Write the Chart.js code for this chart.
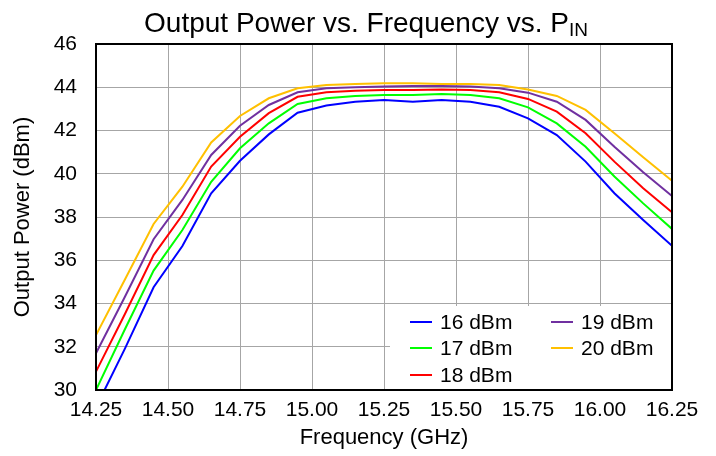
<!DOCTYPE html>
<html lang="en">
<head>
    <meta charset="UTF-8">
    <title>Output Power vs. Frequency vs. PIN</title>
    <script src="https://cdn.jsdelivr.net/npm/chart.js"></script>
    <style>
        body { margin: 0; background: #fff; }
        #wrap { width: 716px; height: 456px; }
    </style>
</head>
<body>
    <div id="wrap"><canvas id="powerChart" width="716" height="456"></canvas></div>
    <script>
        // Frequency points (GHz)
        const freqs = [14.25, 14.35, 14.45, 14.55, 14.65, 14.75, 14.85, 14.95, 15.05, 15.15, 15.25,
                       15.35, 15.45, 15.55, 15.65, 15.75, 15.85, 15.95, 16.05, 16.15, 16.25];

        // Output power (dBm) per input power level
        const pin16 = [29.2, 31.9, 34.75, 36.66, 39.1, 40.6, 41.82, 42.82, 43.16, 43.33, 43.41,
                       43.33, 43.41, 43.33, 43.1, 42.56, 41.79, 40.56, 39.1, 37.86, 36.67];
        const pin17 = [30.0, 32.8, 35.52, 37.4, 39.63, 41.18, 42.33, 43.23, 43.49, 43.6, 43.64,
                       43.64, 43.69, 43.64, 43.49, 43.07, 42.33, 41.25, 39.87, 38.63, 37.45];
        const pin18 = [30.85, 33.5, 36.24, 38.09, 40.33, 41.71, 42.8, 43.56, 43.77, 43.84, 43.87,
                       43.87, 43.9, 43.87, 43.77, 43.46, 42.87, 41.87, 40.56, 39.33, 38.22];
        const pin19 = [31.7, 34.3, 36.97, 38.79, 40.87, 42.22, 43.18, 43.77, 43.95, 44.0, 44.03,
                       44.06, 44.06, 44.03, 43.95, 43.75, 43.33, 42.49, 41.25, 40.07, 38.97];
        const pin20 = [32.54, 35.1, 37.68, 39.4, 41.45, 42.67, 43.49, 43.95, 44.1, 44.15, 44.18,
                       44.18, 44.15, 44.15, 44.1, 43.9, 43.6, 42.95, 41.87, 40.76, 39.68];

        const seriesLabels = ['16 dBm', '17 dBm', '18 dBm', '19 dBm', '20 dBm'];
        const seriesColors = ['#0000ff', '#00ff00', '#ff0000', '#7030a0', '#ffc000'];
        const seriesData = [pin16, pin17, pin18, pin19, pin20];

        const FONT = "'Liberation Sans', Arial, sans-serif";

        // title with subscript, plot frame and the two-column legend
        const decorPlugin = {
            id: 'decorPlugin',
            afterDraw: (chart) => {
                const ctx = chart.ctx;
                const area = chart.chartArea;
                ctx.save();

                // title
                const main = 'Output Power vs. Frequency vs. P';
                ctx.font = '28px ' + FONT;
                const w1 = ctx.measureText(main).width;
                ctx.font = '19px ' + FONT;
                const w2 = ctx.measureText('IN').width;
                const x0 = 366 - (w1 + w2) / 2;
                ctx.fillStyle = '#000';
                ctx.textBaseline = 'alphabetic';
                ctx.textAlign = 'left';
                ctx.font = '28px ' + FONT;
                ctx.fillText(main, x0, 32);
                ctx.font = '19px ' + FONT;
                ctx.fillText('IN', x0 + w1, 36);

                // legend box
                const boxL = 390, boxT = 306;
                ctx.fillStyle = '#fff';
                ctx.fillRect(boxL, boxT, area.right - boxL, area.bottom - boxT);
                const cols = [410, 551];
                const rows = [322, 348, 375];
                ctx.font = '21px ' + FONT;
                ctx.textBaseline = 'middle';
                chart.data.datasets.forEach((ds, i) => {
                    const cx = cols[Math.floor(i / 3)];
                    const cy = rows[i % 3];
                    ctx.strokeStyle = ds.borderColor;
                    ctx.lineWidth = 2;
                    ctx.beginPath();
                    ctx.moveTo(cx, cy);
                    ctx.lineTo(cx + 22, cy);
                    ctx.stroke();
                    ctx.fillStyle = '#000';
                    ctx.fillText(ds.label, cx + 30, cy + 1);
                });

                // frame
                ctx.strokeStyle = '#000';
                ctx.lineWidth = 2;
                ctx.strokeRect(area.left, area.top, area.right - area.left, area.bottom - area.top);
                ctx.restore();
            }
        };

        document.addEventListener('DOMContentLoaded', function() {
            const ctx = document.getElementById('powerChart').getContext('2d');

            const datasets = seriesData.map((vals, i) => ({
                label: seriesLabels[i],
                data: freqs.map((f, j) => ({ x: f, y: vals[j] })),
                borderColor: seriesColors[i],
                backgroundColor: seriesColors[i],
                borderWidth: 2,
                pointRadius: 0,
                fill: false,
                tension: 0
            }));

            new Chart(ctx, {
                type: 'line',
                data: { datasets: datasets },
                options: {
                    responsive: false,
                    animation: false,
                    layout: { padding: { top: 44, right: 44, left: 0, bottom: 0 } },
                    scales: {
                        x: {
                            type: 'linear',
                            min: 14.25,
                            max: 16.25,
                            afterFit: (scale) => { scale.height = 66; },
                            ticks: {
                                stepSize: 0.25,
                                padding: 8,
                                color: '#000',
                                font: { family: FONT, size: 21 },
                                maxRotation: 0,
                                callback: (v) => v.toFixed(2)
                            },
                            grid: { color: '#a6a6a6', lineWidth: 1, drawTicks: false },
                            border: { display: false },
                            title: {
                                display: true,
                                text: 'Frequency (GHz)',
                                color: '#000',
                                font: { family: FONT, size: 22 },
                                padding: { top: 0, bottom: 5 }
                            }
                        },
                        y: {
                            min: 30,
                            max: 46,
                            afterFit: (scale) => { scale.width = 96; },
                            ticks: {
                                stepSize: 2,
                                padding: 19,
                                color: '#000',
                                font: { family: FONT, size: 21 }
                            },
                            grid: { color: '#a6a6a6', lineWidth: 1, drawTicks: false },
                            border: { display: false },
                            title: {
                                display: true,
                                text: 'Output Power (dBm)',
                                color: '#000',
                                font: { family: FONT, size: 22 },
                                padding: { top: 10, bottom: 0 }
                            }
                        }
                    },
                    plugins: {
                        legend: { display: false },
                        title: { display: false },
                        tooltip: { enabled: false }
                    }
                },
                plugins: [decorPlugin]
            });
        });
    </script>
</body>
</html>
